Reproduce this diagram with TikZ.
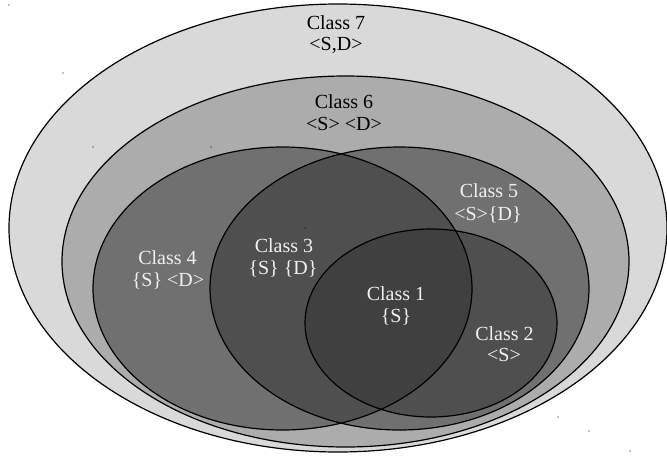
\documentclass[tikz,border=0pt]{standalone}
\usepackage{fontspec}
\setmainfont{Liberation Serif}
\definecolor{cseven}{gray}{0.851}
\definecolor{csix}{gray}{0.675}
\definecolor{cside}{gray}{0.44}
\definecolor{cboth}{gray}{0.31}
\definecolor{cone}{gray}{0.25}
\begin{document}
\begin{tikzpicture}[x=1pt,y=-1pt,
  outline/.style={draw=black,line width=1.2pt},
  lbl/.style={font=\fontsize{20}{22}\selectfont,anchor=base,inner sep=0pt},
  lbldark/.style={lbl,text=black},
  lbllight/.style={lbl,text=white!94!black},
  speck/.style={fill=black}]
\useasboundingbox (0,0) rectangle (667,456);
% Class 7
\fill[cseven] (338,228) ellipse [x radius=329pt, y radius=224pt];
\draw[outline] (338,228) ellipse [x radius=329pt, y radius=224pt];
% Class 6
\fill[csix] (345.5,261.5) ellipse [x radius=283.5pt, y radius=185.5pt];
\draw[outline] (345.5,261.5) ellipse [x radius=283.5pt, y radius=185.5pt];
% left and right sets
\fill[cside] (282.5,288.5) ellipse [x radius=189.5pt, y radius=141.5pt];
\fill[cside] (399.5,288.5) ellipse [x radius=189.5pt, y radius=141.5pt];
\begin{scope}
  \clip (282.5,288.5) ellipse [x radius=189.5pt, y radius=141.5pt];
  \fill[cboth] (399.5,288.5) ellipse [x radius=189.5pt, y radius=141.5pt];
\end{scope}
% Class 1 / Class 2 set
\fill[cboth] (431,323) ellipse [x radius=126pt, y radius=94pt];
\begin{scope}
  \clip (282.5,288.5) ellipse [x radius=189.5pt, y radius=141.5pt];
  \fill[cone] (431,323) ellipse [x radius=126pt, y radius=94pt];
\end{scope}
\draw[outline] (282.5,288.5) ellipse [x radius=189.5pt, y radius=141.5pt];
\draw[outline] (399.5,288.5) ellipse [x radius=189.5pt, y radius=141.5pt];
\draw[outline] (431,323) ellipse [x radius=126pt, y radius=94pt];
% labels
\node[lbldark] (c7a) at (336,29) {Class 7};
\node[lbldark] (c7b) at (336,50) {<S,D>};
\node[lbldark] (c6a) at (344,108) {Class 6};
\node[lbldark] (c6b) at (344,130) {<S> <D>};
\node[lbllight] (c5a) at (489,197) {Class 5};
\node[lbllight] (c5b) at (488,220) {<S>\{D\}};
\node[lbllight] (c4a) at (167.5,264) {Class 4};
\node[lbllight] (c4b) at (168,286) {\{S\} <D>};
\node[lbllight] (c3a) at (284,252) {Class 3};
\node[lbllight] (c3b) at (283,274) {\{S\} \{D\}};
\node[lbllight] (c1a) at (396,300) {Class 1};
\node[lbllight] (c1b) at (396,322) {\{S\}};
\node[lbllight] (c2a) at (504.5,340) {Class 2};
\node[lbllight] (c2b) at (504,361) {<S>};
% stray specks
\foreach \p in {(9,5),(63,73),(93,147),(211,147),(305,228),(558,417),(589,431),(630,451)}
  \fill[speck] \p circle [radius=0.7pt];
\end{tikzpicture}
\end{document}
